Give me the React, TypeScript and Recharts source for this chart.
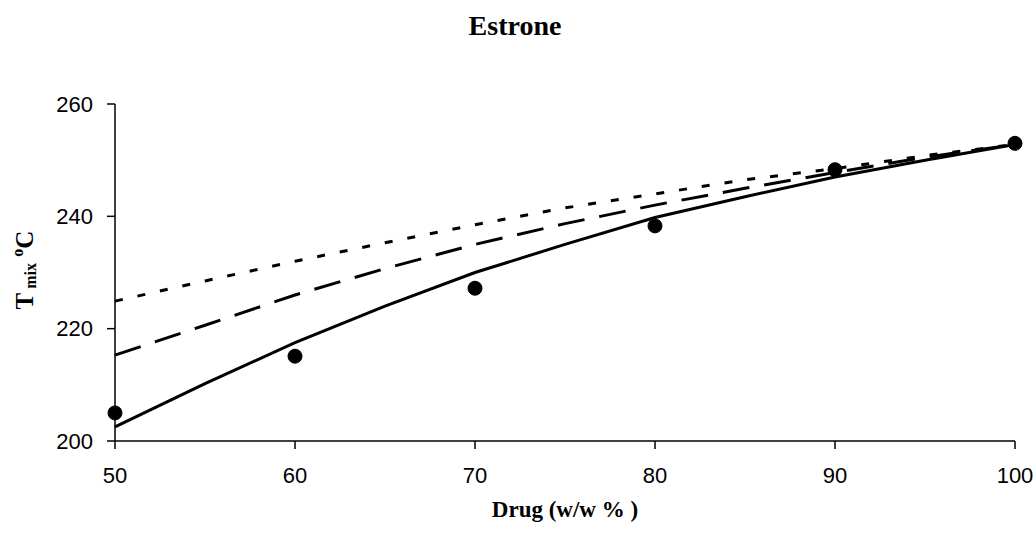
import { ComposedChart, Line, XAxis, YAxis, Label } from "recharts";

const drugPct = [50, 55, 60, 65, 70, 75, 80, 85, 90, 95, 100];
const solidFit = [202.5, 210.2, 217.5, 224, 230, 235, 239.8, 243.5, 247, 250, 252.8];
const longDashFit = [215.3, 220.6, 226, 230.7, 235, 238.7, 242, 245, 247.8, 250.5, 252.8];
const shortDashFit = [224.9, 228.5, 232, 235.3, 238.5, 241.5, 244, 246.5, 248.5, 250.8, 252.8];
const measuredPct = [50, 60, 70, 80, 90, 100];
const measuredT = [205, 215.1, 227.2, 238.3, 248.3, 253];
const xTicks = [50, 60, 70, 80, 90, 100];
const yTicks = [200, 220, 240, 260];

const rows = drugPct.map((x, i) => {
  const k = measuredPct.indexOf(x);
  return {
    x,
    solid: solidFit[i],
    longDash: longDashFit[i],
    shortDash: shortDashFit[i],
    measured: k >= 0 ? measuredT[k] : null,
  };
});

const tickStyle = { fontSize: 22, fill: "#000", fontFamily: "Liberation Sans, Arial, sans-serif" };
const serif = "Liberation Serif, Times New Roman, serif";

export default function App() {
  return (
    <div style={{ position: "absolute", left: 0, top: 0, width: 1036, height: 541, background: "#fff" }}>
      <ComposedChart width={1036} height={541} data={rows} margin={{ top: 104, right: 21, left: 55, bottom: 70 }}>
        <text x={515} y={35} textAnchor="middle" fontFamily={serif} fontWeight="bold" fontSize={28} fill="#000">
          Estrone
        </text>
        <XAxis
          dataKey="x"
          type="number"
          domain={[50, 100]}
          ticks={xTicks}
          tick={tickStyle}
          tickSize={8}
          tickMargin={18}
          stroke="#000"
          strokeWidth={1.5}
        >
          <Label
            value="Drug (w/w % )"
            position="bottom"
            offset={30}
            style={{ fontFamily: serif, fontWeight: "bold", fontSize: 23, fill: "#000" }}
          />
        </XAxis>
        <YAxis
          type="number"
          domain={[200, 260]}
          ticks={yTicks}
          tick={tickStyle}
          tickSize={8}
          tickMargin={14}
          stroke="#000"
          strokeWidth={1.5}
          width={60}
        />
        <text x={33} y={270} textAnchor="middle" fontFamily={serif} fontWeight="bold" fontSize={25} transform="rotate(-90 33 270)" fill="#000">
          T
          <tspan fontSize={16} dy={3}> mix</tspan>
          <tspan fontSize={25} dy={-3}> </tspan>
          <tspan fontSize={16} dy={-10}>o</tspan>
          <tspan fontSize={25} dy={10}>C</tspan>
        </text>
        <Line dataKey="shortDash" stroke="#000" strokeWidth={3} strokeDasharray="8 15" dot={false} isAnimationActive={false} />
        <Line dataKey="longDash" stroke="#000" strokeWidth={3} strokeDasharray="27 15" dot={false} isAnimationActive={false} />
        <Line dataKey="solid" stroke="#000" strokeWidth={3} dot={false} isAnimationActive={false} />
        <Line
          dataKey="measured"
          stroke="none"
          dot={{ r: 7, fill: "#000", stroke: "#000", strokeWidth: 1 }}
          activeDot={false}
          isAnimationActive={false}
        />
      </ComposedChart>
    </div>
  );
}
